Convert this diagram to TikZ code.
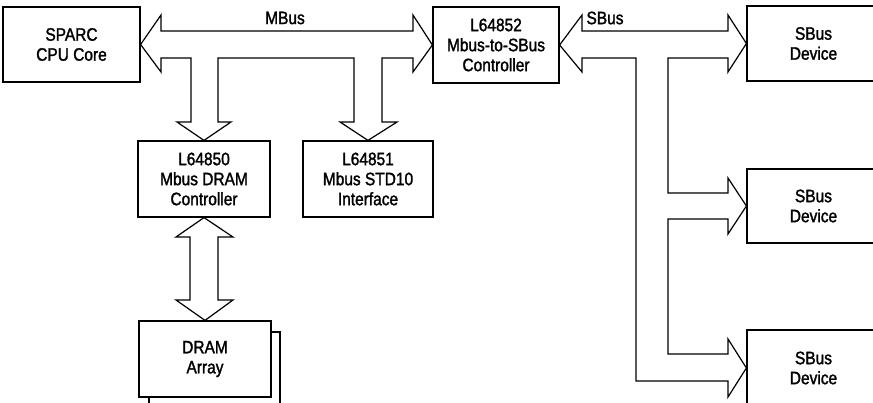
\documentclass[tikz,border=0pt]{standalone}
\usepackage{fontspec}
\setmainfont{Liberation Sans}
\newfontfamily\condfont[FakeStretch=0.86,FakeBold=1.6]{Liberation Sans}
\begin{document}
\begin{tikzpicture}[x=1pt,y=-1pt,
  box/.style={draw,line width=1.2pt,inner sep=0pt,align=center,
    font=\condfont\fontsize{18}{20}\selectfont},
  lbl/.style={inner sep=0pt,font=\condfont\fontsize{18}{20}\selectfont},
  bus/.style={draw,line width=1.2pt,line join=miter,fill=white}]
\useasboundingbox (0,0) rectangle (873,403);
\clip (0,0) rectangle (873,403);
% boxes
\node[box,minimum width=137pt,minimum height=75pt] (sparc) at (71.5,44.5) {SPARC\\CPU Core};
\node[box,minimum width=126pt,minimum height=76pt] (l52) at (496,45) {L64852\\Mbus-to-SBus\\Controller};
\node[box,minimum width=132pt,minimum height=76pt] (l50) at (204,179) {L64850\\Mbus DRAM\\Controller};
\node[box,minimum width=130pt,minimum height=76pt] (l51) at (368,179) {L64851\\Mbus STD10\\Interface};
% DRAM shadow
\coordinate (shA) at (271,332);
\coordinate (shB) at (280,412);
\coordinate (shC) at (149,397);
\draw[line width=1.2pt] (shA) -| (shB);
\draw[line width=1.2pt] (shC) -- ++(0,15);
\node[box,fill=white,minimum width=132pt,minimum height=76pt] (dram) at (205,359) {DRAM\\Array};
\node[box,minimum width=133pt,minimum height=75pt] (dev1) at (813.5,43.5) {SBus\\Device};
\node[box,minimum width=133pt,minimum height=74pt] (dev2) at (813.5,206) {SBus\\Device};
\node[box,minimum width=133pt,minimum height=76pt] (dev3) at (813.5,368) {SBus\\Device};
% MBus
\draw[bus] (sparc.east) -- (161,15) -- (161,31) -- (413,31) -- (413,15) -- (l52.west)
  -- (413,72) -- (413,58) -- (382,58) -- (382,122) -- (397,122) -- (l51.north)
  -- (340,122) -- (354,122) -- (354,58) -- (218,58) -- (218,122) -- (231,122)
  -- (l50.north) -- (177,122) -- (191,122) -- (191,58) -- (161,58) -- (161,72) -- cycle;
\node[lbl] (mbus) at (285,18) {MBus};
% DRAM bus
\draw[bus] (l50.south) -- (233,237) -- (218,237) -- (218,300) -- (233,300) -- (dram.north)
  -- (176,300) -- (190,300) -- (190,237) -- (176,237) -- cycle;
% SBus
\draw[bus] (l52.east) -- (582,15) -- (582,31) -- (728,31) -- (728,15) -- (dev1.west)
  -- (728,72) -- (728,58) -- (668,58) -- (668,193) -- (728,193) -- (728,178) -- (dev2.west)
  -- (728,234) -- (728,219) -- (668,219) -- (668,354) -- (728,354) -- (728,339) -- (dev3.west)
  -- (728,397) -- (728,381) -- (636,381) -- (636,58) -- (582,58) -- (582,72) -- cycle;
\node[lbl] (sbus) at (605,18) {SBus};
\end{tikzpicture}
\end{document}
